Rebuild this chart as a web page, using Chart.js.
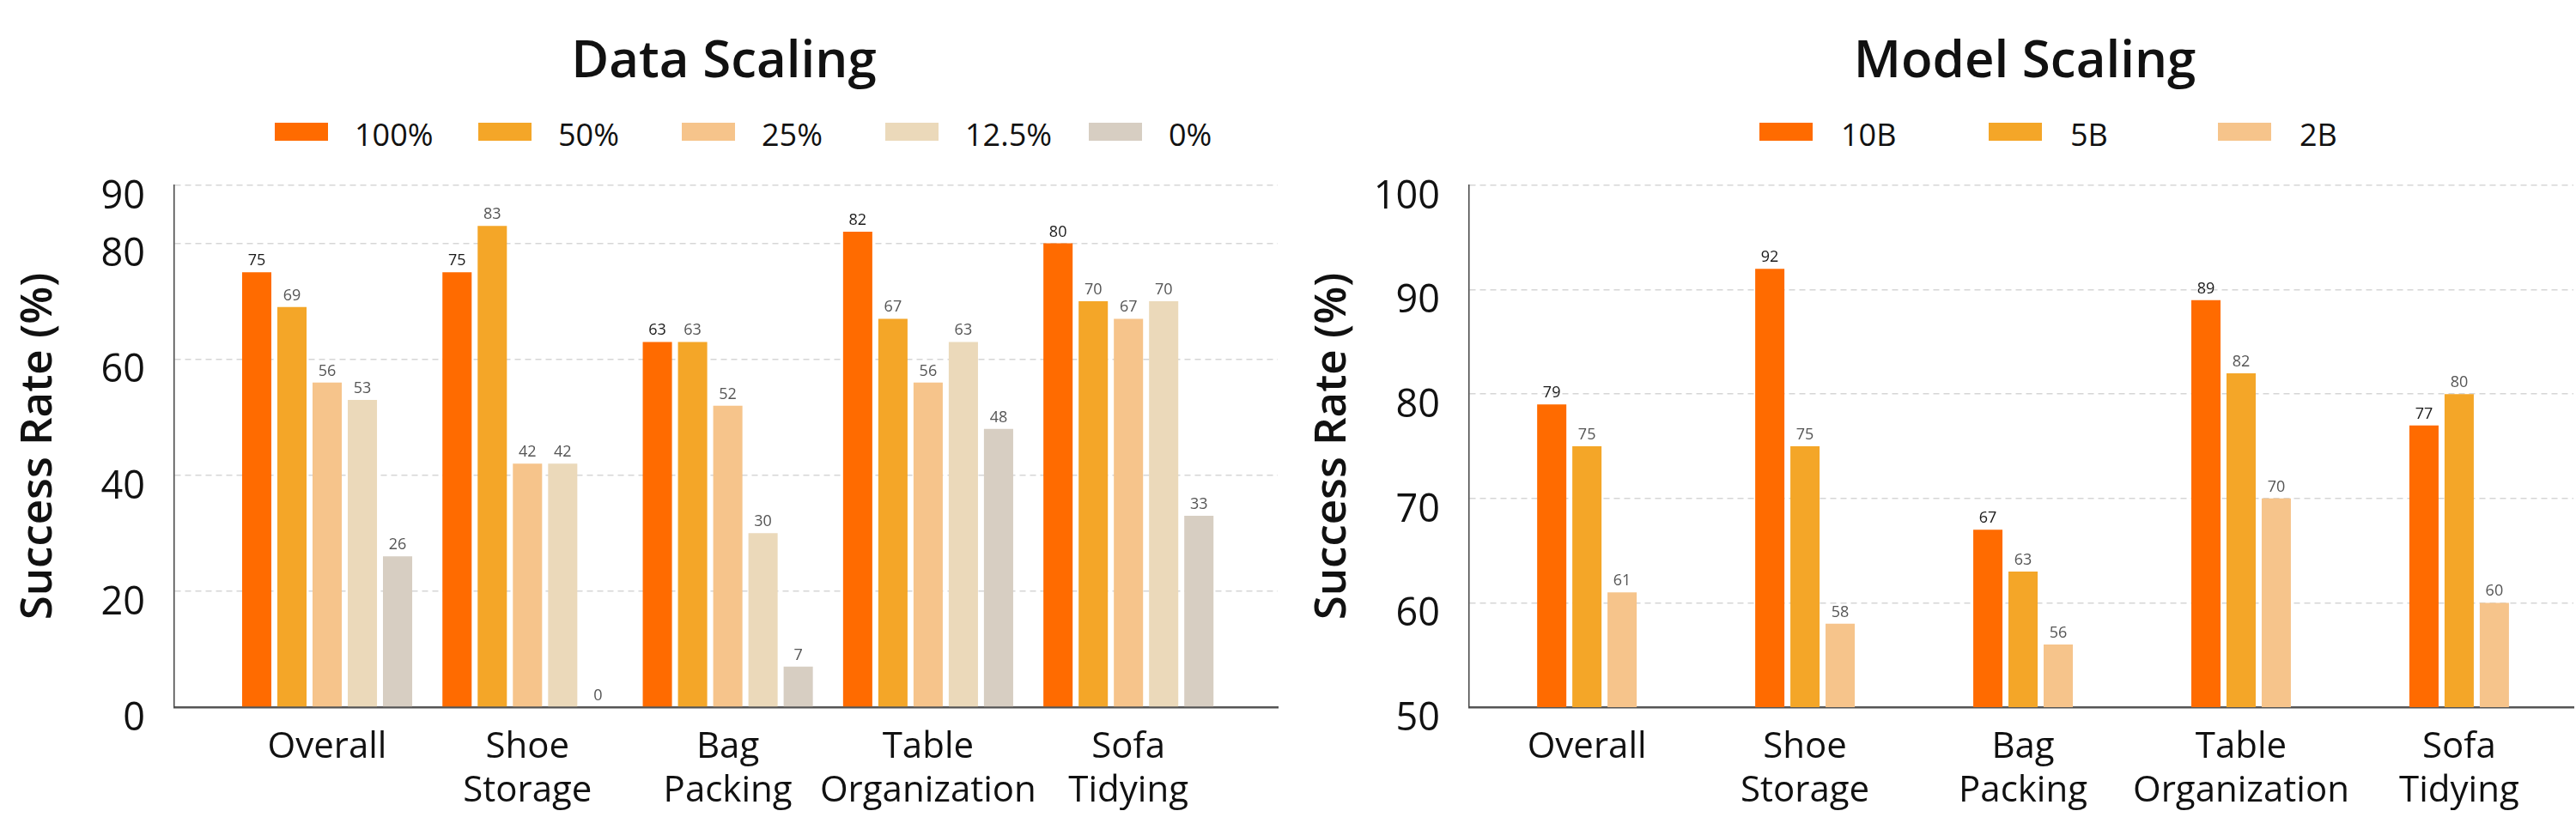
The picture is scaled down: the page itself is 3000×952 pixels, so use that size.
<!DOCTYPE html>
<html>
<head>
<meta charset="utf-8">
<title>Data Scaling / Model Scaling</title>
<script src="https://cdn.jsdelivr.net/npm/chart.js@4.4.1/dist/chart.umd.min.js"></script>
<style>
  body { margin: 0; width: 3000px; height: 952px; overflow: hidden; background: #fff; position: relative; font-family: "Open Sans", sans-serif; color: #111; }
  .title { position: absolute; top: 37px; width: 800px; text-align: center; font-size: 60px; line-height: 60px; font-weight: 600; }
  .legend { position: absolute; top: 130px; display: flex; }
  .legend .item { display: flex; align-items: flex-start; }
  .legend .box { display: block; width: 62px; height: 21px; margin-top: 13px; }
  .legend .txt { font-size: 36px; line-height: 36px; margin-top: 9px; }
  canvas { position: absolute; top: 0; }
</style>
</head>
<body>
<div class="title" style="left:443px">Data Scaling</div>
<div class="legend" id="dataLegend" style="left:320px"></div>
<canvas id="dataChart" width="1500" height="952" style="left:0"></canvas>

<div class="title" style="left:1958px">Model Scaling</div>
<div class="legend" id="modelLegend" style="left:2049px"></div>
<canvas id="modelChart" width="1500" height="952" style="left:1500px"></canvas>

<script>
// categories (multi-line tick labels)
const categories = [['Overall'], ['Shoe', 'Storage'], ['Bag', 'Packing'], ['Table', 'Organization'], ['Sofa', 'Tidying']];

// Data Scaling
const dataLabels = ['100%', '50%', '25%', '12.5%', '0%'];
const data100 = [75, 75, 63, 82, 80];
const data50 = [69, 83, 63, 67, 70];
const data25 = [56, 42, 52, 56, 67];
const data125 = [53, 42, 30, 63, 70];
const data0 = [26, 0, 7, 48, 33];
const dataTicks = [0, 20, 40, 60, 80, 90];

// Model Scaling
const modelLabels = ['10B', '5B', '2B'];
const model10B = [79, 92, 67, 89, 77];
const model5B = [75, 75, 63, 82, 80];
const model2B = [61, 58, 56, 70, 60];
const modelTicks = [50, 60, 70, 80, 90, 100];

const colors = ['#FF6B00', '#F4A628', '#F6C48B', '#EBD9BA', '#D7CEC2'];

Chart.defaults.font.family = '"Open Sans"';
Chart.defaults.color = '#111';

// numbers above the bars
const valueLabels = {
    id: 'valueLabels',
    afterDatasetsDraw(chart) {
        const ctx = chart.ctx;
        ctx.save();
        ctx.font = '18px "Open Sans"';
        ctx.textAlign = 'center';
        ctx.textBaseline = 'alphabetic';
        chart.data.datasets.forEach((ds, i) => {
            ctx.fillStyle = i === 0 ? '#1a1a1a' : '#555';
            chart.getDatasetMeta(i).data.forEach((bar, j) => {
                ctx.fillText(ds.data[j], bar.x, bar.y - 8);
            });
        });
        ctx.restore();
    }
};

function fillLegend(id, labels, step, gap) {
    const el = document.getElementById(id);
    labels.forEach((l, i) => {
        const item = document.createElement('div');
        item.className = 'item';
        item.style.width = step + 'px';
        item.innerHTML = '<span class="box" style="background:' + colors[i] + ';margin-right:' + gap + 'px"></span><span class="txt">' + l + '</span>';
        el.appendChild(item);
    });
}

function makeChart(id, labels, series, ticks, opts) {
    return new Chart(id, {
        type: 'bar',
        data: {
            labels: categories.map((c, i) => i),
            datasets: series.map((s, i) => ({
                label: labels[i],
                data: s,
                backgroundColor: colors[i],
                barPercentage: 0.83,
                categoryPercentage: opts.catPct
            }))
        },
        options: {
            responsive: false,
            animation: false,
            layout: { padding: { top: 216, right: opts.padRight, bottom: 0, left: 0 } },
            plugins: { legend: { display: false }, tooltip: { enabled: false } },
            scales: {
                x: {
                    type: 'linear',
                    min: opts.xMin,
                    max: opts.xMax,
                    offset: false,
                    grid: { display: false, offset: false },
                    border: { display: true, color: '#555', width: 2.5 },
                    afterBuildTicks: (s) => { s.ticks = categories.map((c, i) => ({ value: i })); },
                    afterFit: (s) => { s.height = 128; },
                    ticks: {
                        autoSkip: false, minRotation: 0, maxRotation: 0, padding: 14,
                        font: { size: 42, lineHeight: 1.2 },
                        callback: (v) => categories[v]
                    }
                },
                y: {
                    min: ticks[0],
                    max: ticks[ticks.length - 1],
                    beginAtZero: false,
                    afterBuildTicks: (s) => { s.ticks = ticks.map(v => ({ value: v })); },
                    afterFit: (s) => { s.width = opts.yWidth; },
                    grid: {
                        drawTicks: false,
                        lineWidth: 1.5,
                        color: (c) => (c.tick && c.tick.value === ticks[0]) ? 'rgba(0,0,0,0)' : '#d6d6d6'
                    },
                    border: { display: true, color: '#444', width: 1.5, dash: [7, 5] },
                    ticks: { padding: 34, labelOffset: 14, font: { size: 45 } },
                    title: {
                        display: true,
                        text: 'Success Rate (%)',
                        font: { size: 51, weight: '600' },
                        padding: { top: opts.titlePad, bottom: 0 }
                    }
                }
            }
        },
        plugins: [valueLabels]
    });
}

fillLegend('dataLegend', dataLabels, 237, 31);
fillLegend('modelLegend', modelLabels, 267, 33);

makeChart('dataChart', dataLabels, [data100, data50, data25, data125, data0], dataTicks,
    { xMin: -0.763, xMax: 4.745, yWidth: 203, padRight: 12, titlePad: 15, catPct: 0.879 });

makeChart('modelChart', modelLabels, [model10B, model5B, model2B], modelTicks,
    { xMin: -0.54, xMax: 4.524, yWidth: 211, padRight: 3, titlePad: 22, catPct: 0.484 });
</script>
</body>
</html>
